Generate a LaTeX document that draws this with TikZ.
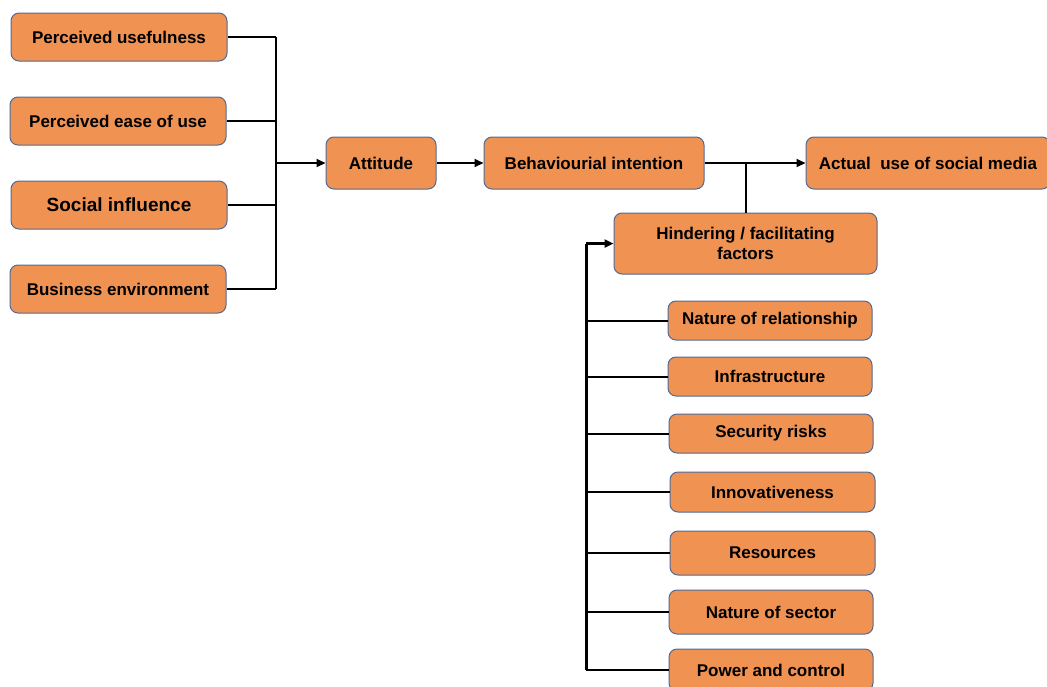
\documentclass[tikz,border=0pt]{standalone}
\usepackage{fontspec}
\setmainfont{Liberation Sans}
\usetikzlibrary{arrows.meta}
\definecolor{boxfill}{RGB}{240,146,82}
\definecolor{boxline}{RGB}{80,106,150}
\tikzset{
  box/.style={draw=boxline, line width=1pt, fill=boxfill, rounded corners=8pt,
    inner sep=0pt, align=center, font=\bfseries\fontsize{17}{20}\selectfont},
  ln/.style={line width=2pt, draw=black},
  lnthick/.style={line width=3pt, draw=black},
  arr/.style={ln, -{Triangle[length=9pt,width=8pt]}},
}
\begin{document}
\begin{tikzpicture}[x=1pt,y=-1pt]
\useasboundingbox (0,0) rectangle (1047,686);

% determinants on the left
\node[box, minimum width=216pt, minimum height=48pt] (pu) at (119,37) {Perceived usefulness};
\node[box, minimum width=216pt, minimum height=48pt] (pe) at (118,121) {Perceived ease of use};
\node[box, minimum width=216pt, minimum height=48pt, font=\bfseries\fontsize{19}{22}\selectfont] (si) at (119,205) {Social influence};
\node[box, minimum width=216pt, minimum height=48pt] (be) at (118,289) {Business environment};

% main chain
\node[box, minimum width=110pt, minimum height=52pt] (att) at (381,163) {Attitude};
\node[box, minimum width=220pt, minimum height=52pt] (bi) at (594,163) {Behaviourial intention};
\node[box, minimum width=244pt, minimum height=52pt] (au) at (928,163) {Actual~~use of social media};
\node[box, minimum width=263pt, minimum height=61pt] (hf) at (745.5,243.5) {Hindering / facilitating\\factors};

% hindering / facilitating factors
\node[box, minimum width=204pt, minimum height=39pt] (nr) at (770,320.5) {Nature of relationship};
\node[box, minimum width=204pt, minimum height=39pt] (inf) at (770,376.5) {Infrastructure};
\node[box, minimum width=204pt, minimum height=39pt] (sr) at (771,433.5) {Security risks};
\node[box, minimum width=205pt, minimum height=40pt] (inn) at (772.5,492) {Innovativeness};
\node[box, minimum width=205pt, minimum height=44pt] (res) at (772.5,553) {Resources};
\node[box, minimum width=204pt, minimum height=44pt] (ns) at (771,612) {Nature of sector};
\node[box, minimum width=204pt, minimum height=42pt] (pc) at (771,670) {Power and control};

% bus joining the four determinants
\coordinate (busA) at (276,163);
\foreach \n in {pu,pe,si,be}
  \draw[ln] (\n.east) -- (\n.east -| busA);
\draw[ln] (pu.east -| busA) -- (be.east -| busA);
\draw[arr] (busA) -- (att.west);

% chain arrows
\draw[arr] (att.east) -- (bi.east -| bi.west);
\draw[arr] (bi.east) -- (au.west);
\draw[ln] (hf.north) -- (hf.north |- bi.east);

% bus collecting the factors
\coordinate (busB) at (586,243.5);
\draw[lnthick] (busB |- pc.west) -- (busB);
\draw[arr, line width=2.5pt] (busB) -- (hf.west);
\foreach \n in {nr,inf,sr,inn,res,ns,pc}
  \draw[ln] (\n.west) -- (\n.west -| busB);
\end{tikzpicture}
\end{document}
